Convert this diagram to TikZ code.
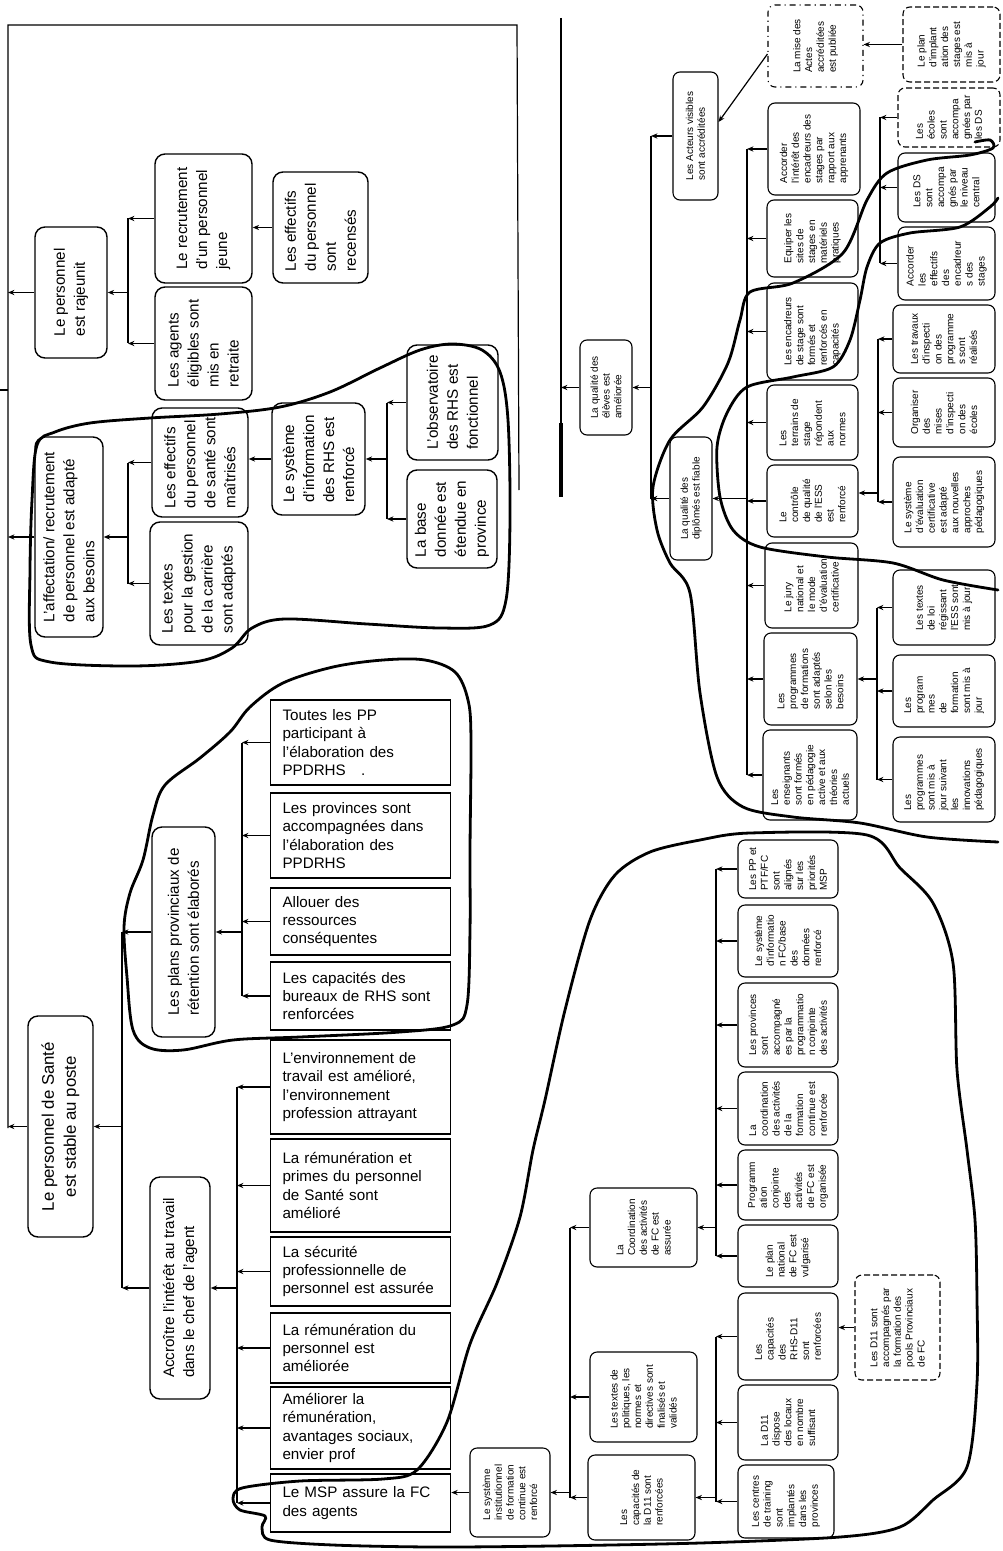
\documentclass[tikz,border=0pt]{standalone}
\usepackage{fontspec}
\setmainfont{Liberation Sans}
\usetikzlibrary{arrows.meta}
\newcommand\fA{\fontsize{7.6}{10}\selectfont}
\newcommand\fB{\fontsize{8.4}{11}\selectfont}
\newcommand\fH{\fontsize{7.6}{9.2}\selectfont}
\newcommand\fS{\fontsize{5}{5.9}\selectfont}
\tikzset{
 rbox/.style={draw, line width=0.7pt, rounded corners=5pt, inner sep=0pt},
 sm/.style={rounded corners=3.5pt, line width=0.55pt},
 hbox/.style={draw, line width=0.8pt, inner xsep=6pt, inner ysep=0pt, text width=78pt, align=left, font=\fH},
 rtxt/.style={inner sep=0pt, align=left},
 tA/.style={font=\fA},
 tB/.style={font=\fB},
 tS/.style={font=\fS},
 arr/.style={-{Stealth[length=3.2pt,width=2.6pt]}, line width=0.6pt},
 ln/.style={line width=0.6pt},
 blob/.style={line width=1.4pt, line join=round, line cap=round},
 dsh/.style={dash pattern=on 3pt off 1.5pt},
}
% #1 extra box style, #2 name, #3 x1, #4 y1, #5 x2, #6 y2, #7 text style, #8 text
\newcommand\RB[8][]{%
  \node[rbox,#1,minimum width={(#5-#3)*0.5pt},minimum height={(#6-#4)*0.5pt}] (#2) at ({(#3+#5)/2},{(#4+#6)/2}) {};
  \node[rtxt,rotate=90,#7] (#2-t) at (#2.center) {#8};}
% #1 name, #2 x1, #3 y1, #4 x2, #5 y2, #6 text
\newcommand\HB[6]{%
  \node[hbox,minimum height={(#5-#3)*0.5pt}] (#1) at ({(#2+#4)/2},{(#3+#5)/2}) {#6};}
\begin{document}
\begin{tikzpicture}[x=0.5pt,y=-0.5pt]
\fill[white] (0,0) rectangle (1002,1551);
\useasboundingbox (0,0) rectangle (1002,1551);

% ---------- left upper group ----------
\RB{raj}{35}{227}{107}{358}{tA}{Le personnel\\est rajeunit}
\RB{recr}{155}{154}{252}{283}{tA}{Le recrutement\\d'un personnel\\jeune}
\RB{agents}{155}{287}{252}{400}{tA}{Les agents\\éligibles sont\\mis en\\retraite}
\RB{recens}{273}{172}{368}{283}{tA}{Les effectifs\\du personnel\\sont\\recensés}
\RB{affect}{35}{437}{103}{637}{tA}{L'affectation/ recrutement\\de personnel est adapté\\aux besoins}
\RB{effect}{152}{408}{248}{517}{tA}{Les effectifs\\du personnel\\de santé sont\\maîtrisés}
\RB{textes}{150}{522}{248}{645}{tA}{Les textes\\pour la gestion\\de la carrière\\sont adaptés}
\RB{sysinfo}{272}{403}{365}{515}{tA}{Le système\\d'information\\des RHS est\\renforcé}
\RB{observ}{407}{345}{498}{460}{tA}{L'observatoire\\des RHS est\\fonctionnel}
\RB{base}{407}{470}{497}{568}{tA}{La base\\donnée est\\étendue en\\province}

% ---------- left middle group ----------
\RB{plans}{152}{827}{215}{1037}{tA}{Les plans provinciaux de\\rétention sont élaborés}
\HB{tpp}{270}{700}{451}{785}{Toutes les PP\\participant à\\l'élaboration des\\PPDRHS\quad.}
\HB{prov}{270}{793}{451}{878}{Les provinces sont\\accompagnées dans\\l'élaboration des\\PPDRHS}
\HB{allouer}{270}{888}{451}{955}{Allouer des\\ressources\\conséquentes}
\HB{capac}{270}{962}{451}{1030}{Les capacités des\\bureaux de RHS sont\\renforcées}

% ---------- left lower group ----------
\RB{sante}{28}{1016}{93}{1237}{tB,align=center}{Le personnel de Santé\\est stable au poste}
\RB{accr}{150}{1177}{210}{1399}{tA}{Accroître l'intérêt au travail\\dans le chef de l'agent}
\HB{env}{270}{1040}{451}{1134}{L'environnement de\\travail est amélioré,\\l'environnement\\profession attrayant}
\HB{remu}{270}{1139}{451}{1232}{La rémunération et\\primes du personnel\\de Santé sont\\amélioré}
\HB{secu}{270}{1237}{451}{1306}{La sécurité\\professionnelle de\\personnel est assurée}
\HB{remu2}{270}{1313}{451}{1383}{La rémunération du\\personnel est\\améliorée}
\HB{amel}{270}{1387}{451}{1469}{Améliorer la\\rémunération,\\avantages sociaux,\\envier prof}
\HB{msp}{270}{1474}{451}{1532}{Le MSP assure la FC\\des agents}

% ---------- bottom right group ----------
\RB[sm]{sysinst}{470}{1448}{550}{1537}{tS}{Le système\\institutionnel\\de formation\\continue est\\renforcé}
\RB[sm]{coordfc}{590}{1188}{697}{1267}{tS}{La\\Coordination\\des activités\\de FC est\\assurée}
\RB[sm]{textpol}{590}{1352}{697}{1442}{tS}{Les textes de\\politiques, les\\normes et\\directives sont\\finalisés et\\validés}
\RB[sm]{capd11}{588}{1455}{695}{1540}{tS}{Les\\capacités de\\la D11 sont\\renforcées}
\RB[sm]{pp}{738}{840}{838}{898}{tS}{Les PP et\\PTF/FC\\sont\\alignés\\sur les\\priorités\\MSP}
\RB[sm]{sifc}{738}{905}{838}{977}{tS}{Le système\\d'informatio\\n FC/base\\des\\données\\renforcé}
\RB[sm]{provacc}{738}{983}{838}{1067}{tS}{Les provinces\\sont\\accompagné\\es par la\\programmatio\\n conjointe\\des activités}
\RB[sm]{coordrenf}{738}{1072}{838}{1145}{tS}{La\\coordination\\des activités\\de la\\formation\\continue est\\renforcée}
\RB[sm]{progconj}{738}{1150}{838}{1220}{tS}{Programm\\ation\\conjointe\\des\\activités\\de FC est\\organisée}
\RB[sm]{plannat}{738}{1225}{838}{1287}{tS}{Le plan\\national\\de FC est\\vulgarisé}
\RB[sm]{rhsd11}{738}{1293}{838}{1380}{tS}{Les\\capacités\\des\\RHS-D11\\sont\\renforcées}
\RB[sm]{locaux}{738}{1385}{838}{1460}{tS}{La D11\\dispose\\des locaux\\en nombre\\suffisant}
\RB[sm]{centres}{738}{1465}{834}{1538}{tS}{Les centres\\de training\\sont\\implantés\\dans les\\provinces}
\RB[sm,dsh]{d11acc}{855}{1275}{940}{1380}{tS}{Les D11 sont\\accompagnés par\\la formation des\\pools Provinciaux\\de FC}

% ---------- right upper group ----------
\RB[sm]{qeleves}{580}{340}{632}{435}{tS}{La qualité des\\élèves est\\améliorée}
\RB[sm]{diplomes}{670}{437}{712}{560}{tS}{La qualité des\\diplômés est fiable}
\RB[sm]{acteurs}{673}{72}{718}{200}{tS}{Les Acteurs visibles\\sont accréditées}
\RB[sm,dashdotted]{mise}{768}{5}{863}{87}{tS}{La mise des\\Actes\\accréditées\\est publiée}
\RB[sm,dsh]{plan}{903}{7}{1000}{82}{tS}{Le plan\\d'implant\\ation des\\stages est\\mis à\\jour}
\RB[sm]{acc}{768}{103}{860}{195}{tS}{Accorder\\l'intérêt des\\encadreurs des\\stages par\\rapport aux\\apprenants}
\RB[sm]{equip}{767}{200}{858}{277}{tS}{Equiper les\\sites de\\stages en\\matériels\\pratiques}
\RB[sm]{encad}{767}{283}{858}{380}{tS}{Les encadreurs\\de stage sont\\formés et\\renforcés en\\capacités}
\RB[sm]{terr}{767}{385}{858}{460}{tS}{Les\\terrains de\\stage\\répondent\\aux\\normes}
\RB[sm]{ctrl}{767}{465}{858}{537}{tS}{Le\\contrôle\\de qualité\\de l'ESS\\est\\renforcé}
\RB[sm]{jury}{765}{543}{858}{628}{tS}{Le jury\\national et\\le mode\\d'évaluation\\certificative}
\RB[sm]{progf}{764}{633}{857}{725}{tS}{Les\\programmes\\de formations\\sont adaptés\\selon les\\besoins}
\RB[sm]{ens}{763}{730}{857}{820}{tS}{Les\\enseignants\\sont formés\\en pédagogie\\active et aux\\théories\\actuels}
\RB[sm,dsh]{ecoles}{898}{88}{1000}{147}{tS}{Les\\écoles\\sont\\accompa\\gnées par\\les DS}
\RB[sm]{ds}{898}{153}{995}{222}{tS}{Les DS\\sont\\accompa\\gnés par\\le niveau\\central}
\RB[sm]{effenc}{898}{227}{995}{300}{tS}{Accorder\\les\\effectifs\\des\\encadreur\\s des\\stages}
\RB[sm]{travaux}{893}{305}{995}{373}{tS}{Les travaux\\d'inspecti\\on des\\programme\\s sont\\réalisés}
\RB[sm]{organ}{893}{378}{995}{447}{tS}{Organiser\\des\\mises\\d'inspecti\\on des\\écoles}
\RB[sm]{syseval}{893}{457}{995}{547}{tS}{Le système\\d'évaluation\\certificative\\est adapté\\aux nouvelles\\approches\\pédagogiques}
\RB[sm]{textloi}{893}{570}{995}{645}{tS}{Les textes\\de loi\\régissant\\l'ESS sont\\mis à jour}
\RB[sm]{progmaj}{893}{655}{995}{727}{tS}{Les\\program\\mes\\de\\formation\\sont mis à\\jour}
\RB[sm]{progsuiv}{893}{737}{995}{822}{tS}{Les\\programmes\\sont mis à\\jour suivant\\les\\innovations\\pédagogiques}

% ---------- frame lines ----------
\coordinate (FT) at (8,25);
\coordinate (FB) at (8,1128);
\coordinate (FR) at (517,25);
\coordinate (FRB) at (519,490);
\coordinate (FX) at (0,390);
\draw[ln] (FB) -- (FT) -- (FR) -- (FRB);
\draw[ln] (FX) -- (FX -| FT);
\draw[arr] (raj.west) -- (raj.west -| FT);
\draw[arr] (affect.west) -- (affect.west -| FT);
\draw[arr] (sante.west) -- (sante.west -| FT);

\coordinate (RT) at (561,18);
\coordinate (RBt) at (561,497);
\coordinate (RBm) at (561,423);
\draw[ln] (RT) -- (RBt);
\draw[line width=2pt] (RBm) -- (RBt);
\draw[arr] (qeleves.west) -- (qeleves.west -| RT);

% ---------- buses ----------
\coordinate (B1) at (128,0);
\foreach \nm in {recr,agents} \draw[arr] (\nm.west) -- (\nm.west -| B1);
\draw[ln] (recr.west -| B1) -- (agents.west -| B1);
\draw[arr] (raj.east -| B1) -- (raj.east);
\draw[arr] (recens.west) -- (recens.west -| recr.east);

\coordinate (B2) at (128,0);
\foreach \nm in {effect,textes} \draw[arr] (\nm.west) -- (\nm.west -| B2);
\draw[ln] (effect.west -| B2) -- (textes.west -| B2);
\draw[arr] (affect.east -| B2) -- (affect.east);
\draw[arr] (sysinfo.west) -- (sysinfo.west -| effect.east);

\coordinate (B3) at (387,0);
\foreach \nm in {observ,base} \draw[arr] (\nm.west) -- (\nm.west -| B3);
\draw[ln] (observ.west -| B3) -- (base.west -| B3);
\draw[arr] (sysinfo.east -| B3) -- (sysinfo.east);

\coordinate (B4) at (242,0);
\foreach \nm in {tpp,prov,allouer,capac} \draw[arr] (\nm.west) -- (\nm.west -| B4);
\draw[ln] (tpp.west -| B4) -- (capac.west -| B4);
\draw[arr] (plans.east -| B4) -- (plans.east);

\coordinate (B5) at (122,0);
\foreach \nm in {plans,accr} \draw[arr] (\nm.west) -- (\nm.west -| B5);
\draw[ln] (plans.west -| B5) -- (accr.west -| B5);
\draw[arr] (sante.east -| B5) -- (sante.east);

\coordinate (B6) at (237,0);
\foreach \nm in {env,remu,secu,remu2,amel,msp} \draw[arr] (\nm.west) -- (\nm.west -| B6);
\draw[ln] (env.west -| B6) -- (msp.west -| B6);
\draw[arr] (accr.east -| B6) -- (accr.east);

\draw[arr] (sysinst.west) -- (sysinst.west -| msp.east);

\coordinate (B7) at (570,0);
\foreach \nm in {coordfc,textpol,capd11} \draw[arr] (\nm.west) -- (\nm.west -| B7);
\draw[ln] (coordfc.west -| B7) -- (capd11.west -| B7);
\draw[arr] (sysinst.east -| B7) -- (sysinst.east);

\coordinate (B8) at (716,0);
\foreach \nm in {pp,sifc,provacc,coordrenf,progconj,plannat} \draw[arr] (\nm.west) -- (\nm.west -| B8);
\draw[ln] (pp.west -| B8) -- (plannat.west -| B8);
\draw[arr] (coordfc.east -| B8) -- (coordfc.east);

\coordinate (B9) at (716,0);
\foreach \nm in {rhsd11,locaux,centres} \draw[arr] (\nm.west) -- (\nm.west -| B9);
\draw[ln] (rhsd11.west -| B9) -- (centres.west -| B9);
\draw[arr] (capd11.east -| B9) -- (capd11.east);
\draw[arr] (d11acc.west) -- (d11acc.west -| rhsd11.east);

\coordinate (B10) at (651,0);
\foreach \nm in {acteurs,diplomes} \draw[arr] (\nm.west) -- (\nm.west -| B10);
\draw[ln] (acteurs.west -| B10) -- (diplomes.west -| B10);
\draw[arr] (qeleves.east -| B10) -- (qeleves.east);
\draw[arr] ([yshift=-4pt]mise.west) -- ([yshift=7pt]acteurs.east);
\draw[arr] (plan.west) -- (plan.west -| mise.east);

\coordinate (B11) at (747,0);
\foreach \nm in {acc,equip,encad,terr,ctrl,jury,progf,ens} \draw[arr] (\nm.west) -- (\nm.west -| B11);
\draw[ln] (acc.west -| B11) -- (ens.west -| B11);
\draw[arr] (diplomes.east -| B11) -- (diplomes.east);

\coordinate (B12) at (880,0);
\foreach \nm in {ecoles,ds,effenc} \draw[arr] (\nm.west) -- (\nm.west -| B12);
\draw[ln] (ecoles.west -| B12) -- (effenc.west -| B12);

\coordinate (B13) at (878,0);
\foreach \nm in {travaux,organ,syseval} \draw[arr] (\nm.west) -- (\nm.west -| B13);
\draw[ln] (travaux.west -| B13) -- (syseval.west -| B13);
\draw[arr] ([yshift=4pt]ctrl.east -| B13) -- ([yshift=4pt]ctrl.east);

\coordinate (B14) at (877,0);
\foreach \nm in {textloi,progmaj,progsuiv} \draw[arr] (\nm.west) -- (\nm.west -| B14);
\draw[ln] (textloi.west -| B14) -- (progsuiv.west -| B14);
\draw[arr] (progf.east -| B14) -- (progf.east);

% ---------- hand-drawn outlines ----------
\draw[blob] plot[smooth cycle, tension=0.55] coordinates {(37,445) (32,500) (30,570) (31,645) (50,662) (133,666) (200,661) (232,648) (252,628) (285,619) (367,624) (440,628) (490,625) (506,600) (510,520) (508,420) (500,372) (482,350) (452,344) (420,350) (380,368) (330,392) (280,407) (220,414) (150,418) (90,423) (55,432)};
\draw[blob] plot[smooth cycle, tension=0.55] coordinates {(250,707) (283,683) (333,667) (383,660) (425,660) (455,672) (468,700) (471,740) (470,850) (470,930) (467,1005) (453,1025) (400,1032) (300,1037) (233,1040) (183,1050) (150,1048) (133,1030) (127,977) (124,927) (130,893) (143,860) (153,815) (165,785) (200,758) (230,732)};
\draw[blob] plot[smooth cycle, tension=0.5] coordinates {(700,840) (750,833) (867,835) (900,868) (933,903) (953,963) (957,1070) (967,1150) (975,1220) (977,1300) (977,1383) (967,1467) (933,1500) (900,1527) (840,1537) (700,1543) (550,1546) (433,1547) (333,1545) (270,1540) (262,1527) (265,1516) (240,1510) (233,1499) (242,1488) (300,1481) (383,1479) (417,1470) (447,1422) (470,1344) (497,1283) (520,1217) (533,1150) (545,1100) (565,1010) (590,920) (615,875) (650,852)};
\draw[blob] plot[smooth, tension=0.5] coordinates {(975,142) (990,140) (993,148) (970,155) (927,160) (887,173) (867,200) (843,253) (793,283) (750,292) (740,320) (728,363) (703,407) (670,440) (653,487) (657,530) (670,563) (690,593) (700,693) (717,777) (743,807) (793,817) (860,823) (927,837) (998,842)};
\draw[blob] plot[smooth, tension=0.5] coordinates {(998,198) (990,207) (960,227) (910,233) (880,243) (867,267) (860,300) (850,340) (833,367) (793,377) (747,387) (727,413) (717,447) (720,497) (733,530) (760,547) (827,557) (893,563) (943,580) (998,590)};
\end{tikzpicture}
\end{document}
